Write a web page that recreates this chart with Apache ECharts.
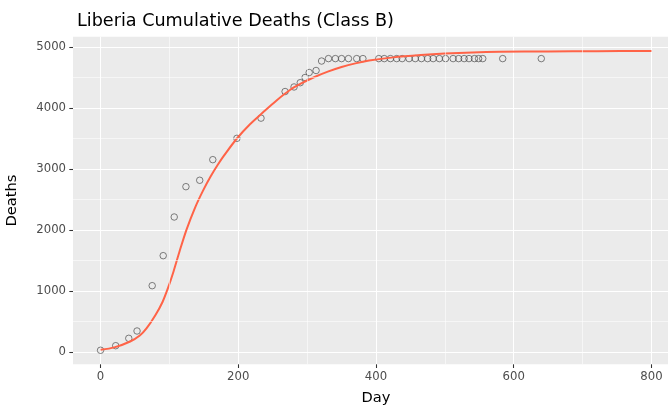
<!DOCTYPE html>
<html>
<head>
<meta charset="utf-8">
<script src="https://cdn.jsdelivr.net/npm/echarts@6/dist/echarts.min.js"></script>
<style>
  html, body { margin: 0; padding: 0; background: #fff; }
  #chart { width: 668px; height: 410px; }
</style>
</head>
<body>
<div id="chart"></div>
<script>
// Observed cumulative deaths by day
const obsDay = [0, 22, 41, 53, 75, 91, 107, 124, 144, 163, 198, 233, 268, 281, 290, 297, 303, 313, 321,
  331, 341, 350, 360, 372, 381, 404, 412, 421, 430, 438, 448, 457, 466, 475, 483, 492, 501, 512, 520,
  528, 535, 543, 549, 555, 584, 640];
const obsDeaths = [28, 103, 224, 344, 1087, 1579, 2213, 2710, 2815, 3153, 3503, 3834, 4270, 4345, 4415,
  4500, 4582, 4615, 4770, 4810, 4810, 4810, 4810, 4810, 4810, 4810, 4810, 4810, 4810, 4810, 4810, 4810,
  4810, 4810, 4810, 4810, 4810, 4810, 4810, 4810, 4810, 4810, 4810, 4810, 4810, 4810];

// Fitted model curve
const fitDay = [0, 20, 43, 57, 67, 80, 90, 98, 106, 115, 125, 137, 149, 160, 170, 180, 198, 217, 236,
  256, 275, 290, 310, 330, 350, 370, 390, 425, 465, 500, 540, 580, 650, 720, 800];
const fitDeaths = [35, 75, 172, 270, 390, 610, 820, 1050, 1320, 1660, 2010, 2360, 2650, 2881, 3066, 3231,
  3500, 3734, 3930, 4128, 4295, 4394, 4504, 4596, 4672, 4732, 4778, 4830, 4868, 4892, 4910, 4921, 4928,
  4932, 4934];

// Axis ticks and minor grid positions
const xTicks = [0, 200, 400, 600, 800];
const yTicks = [0, 1000, 2000, 3000, 4000, 5000];
const xMinor = [100, 300, 500, 700];
const yMinor = [500, 1500, 2500, 3500, 4500];

const FONT = 'DejaVu Sans';
const chart = echarts.init(document.getElementById('chart'), null, { renderer: 'canvas' });

const minorLine = { color: '#ffffff', width: 0.55, type: 'solid' };
const plainNumber = v => String(v);

chart.setOption({
  animation: false,
  backgroundColor: '#ffffff',
  title: {
    text: 'Liberia Cumulative Deaths (Class B)',
    left: 72,
    top: 7,
    textStyle: { fontFamily: FONT, fontSize: 17.6, fontWeight: 'normal', color: '#000000' }
  },
  grid: {
    left: 73, width: 606, top: 36.7, bottom: 45.7,
    outerBoundsMode: 'none', containLabel: false,
    show: true, backgroundColor: '#EBEBEB', borderWidth: 0
  },
  xAxis: {
    type: 'value', min: -40, max: 840,
    name: 'Day', nameLocation: 'middle', nameGap: 26,
    nameTextStyle: { fontFamily: FONT, fontSize: 14.67, color: '#000000' },
    axisLine: { show: false, onZero: false },
    axisTick: { show: true, length: 3.7, customValues: xTicks, lineStyle: { color: '#333333', width: 1.07 } },
    axisLabel: { customValues: xTicks, formatter: plainNumber, margin: 7, fontFamily: FONT, fontSize: 11.7, color: '#4D4D4D' },
    splitLine: { show: true, lineStyle: { color: '#ffffff', width: 1.07 } }
  },
  yAxis: {
    type: 'value', min: -202, max: 5169,
    name: 'Deaths', nameLocation: 'middle', nameGap: 53,
    nameTextStyle: { fontFamily: FONT, fontSize: 14.67, color: '#000000' },
    axisLine: { show: false, onZero: false },
    axisTick: { show: true, length: 3.7, customValues: yTicks, lineStyle: { color: '#333333', width: 1.07 } },
    axisLabel: { customValues: yTicks, formatter: plainNumber, margin: 7, fontFamily: FONT, fontSize: 11.7, color: '#4D4D4D' },
    splitLine: { show: true, lineStyle: { color: '#ffffff', width: 1.07 } }
  },
  series: [
    {
      // minor grid lines
      type: 'line', data: [], z: 1, silent: true,
      markLine: {
        silent: true, symbol: 'none', label: { show: false }, animation: false,
        lineStyle: minorLine,
        data: xMinor.map(v => ({ xAxis: v })).concat(yMinor.map(v => ({ yAxis: v })))
      }
    },
    {
      type: 'scatter', z: 2,
      data: obsDay.map((d, i) => [d, obsDeaths[i]]),
      symbol: 'circle', symbolSize: 6.5,
      itemStyle: { color: 'rgba(0,0,0,0)', borderColor: 'rgba(70,70,70,0.85)', borderWidth: 1 }
    },
    {
      type: 'line', z: 3,
      data: fitDay.map((d, i) => [d, fitDeaths[i]]),
      smooth: 0.3, showSymbol: false,
      lineStyle: { color: '#FF6347', width: 2 }
    }
  ]
});
</script>
</body>
</html>
